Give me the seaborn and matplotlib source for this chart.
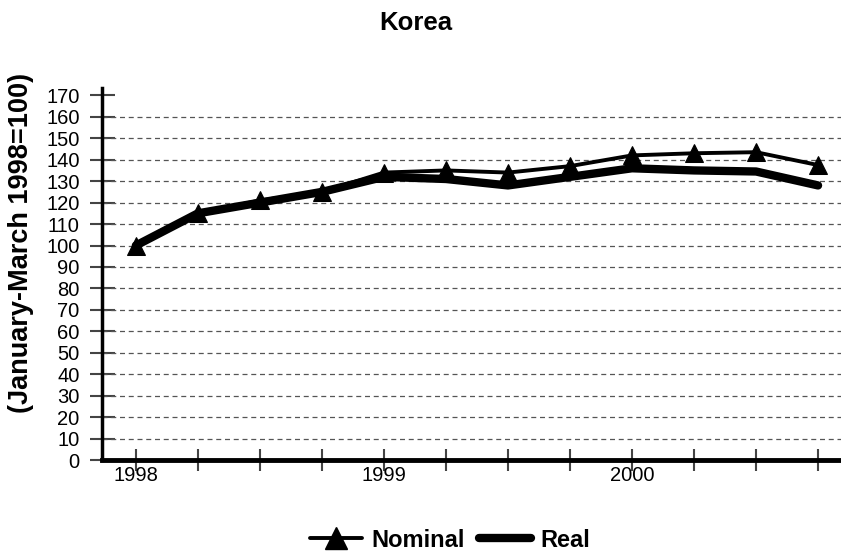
import numpy as np
import pandas as pd
import matplotlib
matplotlib.use("Agg")
import matplotlib.pyplot as plt
import seaborn as sns
from matplotlib.lines import Line2D

# Quarterly index, January-March 1998 = 100
quarters = ["1998 Q1", "1998 Q2", "1998 Q3", "1998 Q4",
            "1999 Q1", "1999 Q2", "1999 Q3", "1999 Q4",
            "2000 Q1", "2000 Q2", "2000 Q3", "2000 Q4"]
nominal = [100, 115, 121, 125, 134, 135, 134, 137, 142, 143, 143.5, 137.5]
real = [100, 115, 120, 125, 132, 131, 128, 132, 136, 135, 134.5, 128]
x_labels = ["1998", "", "", "", "1999", "", "", "", "2000", "", "", ""]
y_ticks = list(range(0, 171, 10))

sns.set_theme(style="white")
plt.rcParams["font.family"] = ["Liberation Sans", "DejaVu Sans"]
plt.rcParams["text.color"] = "black"
plt.rcParams["axes.labelcolor"] = "black"
plt.rcParams["xtick.color"] = "black"
plt.rcParams["ytick.color"] = "black"

df = pd.DataFrame({"pos": np.arange(len(quarters)),
                   "quarter": quarters,
                   "Nominal": nominal,
                   "Real": real})

fig = plt.figure(figsize=(8.41, 5.55), dpi=100)
ax = fig.add_axes([0.121, 0.171, 0.879, 0.670])

# dashed horizontal guides (no guide at the top tick)
ax.hlines(y_ticks[1:-1], -0.55, 11.37, colors="#555555",
          linestyles=(0, (4, 3)), linewidth=0.9, zorder=1)

sns.lineplot(data=df, x="pos", y="Real", ax=ax, color="black",
             linewidth=6, solid_capstyle="round", zorder=3)
sns.lineplot(data=df, x="pos", y="Nominal", ax=ax, color="black",
             linewidth=2.8, marker="^", markersize=12.5,
             markeredgecolor="black", markerfacecolor="black", zorder=4)

ax.set_xlim(-0.55, 11.37)
ax.set_ylim(0, 173.3)
ax.set_xticks(df["pos"])
ax.set_xticklabels(x_labels, fontsize=14.5)
ax.set_yticks(y_ticks)
ax.set_yticklabels([str(v) for v in y_ticks], fontsize=14.5)
ax.set_xlabel("")
ax.set_ylabel("(January-March 1998=100)", fontsize=19.5, fontweight="bold")
ax.yaxis.set_label_coords(-0.092, 0.583)
ax.tick_params(axis="y", direction="inout", length=18, width=1.5,
               color="#444444", pad=7, left=True)
ax.tick_params(axis="x", direction="inout", length=16, width=1.5,
               color="#444444", pad=-4, bottom=True)

for side in ["top", "right"]:
    ax.spines[side].set_visible(False)
ax.spines["left"].set_linewidth(2.5)
ax.spines["left"].set_color("black")
ax.spines["bottom"].set_linewidth(3.5)
ax.spines["bottom"].set_color("black")

fig.text(0.495, 0.958, "Korea", ha="center", va="center",
         fontsize=18.5, fontweight="bold")

handles = [Line2D([], [], color="black", linewidth=2.8, marker="^",
                  markersize=16),
           Line2D([], [], color="black", linewidth=6,
                  solid_capstyle="round")]
fig.legend(handles, ["Nominal", "Real"], loc="center",
           bbox_to_anchor=(0.535, 0.027), ncol=2, frameon=False,
           prop={"weight": "bold", "size": 17}, handlelength=2.2,
           columnspacing=0.6, handletextpad=0.4)

fig.savefig("out.png", dpi=100)
